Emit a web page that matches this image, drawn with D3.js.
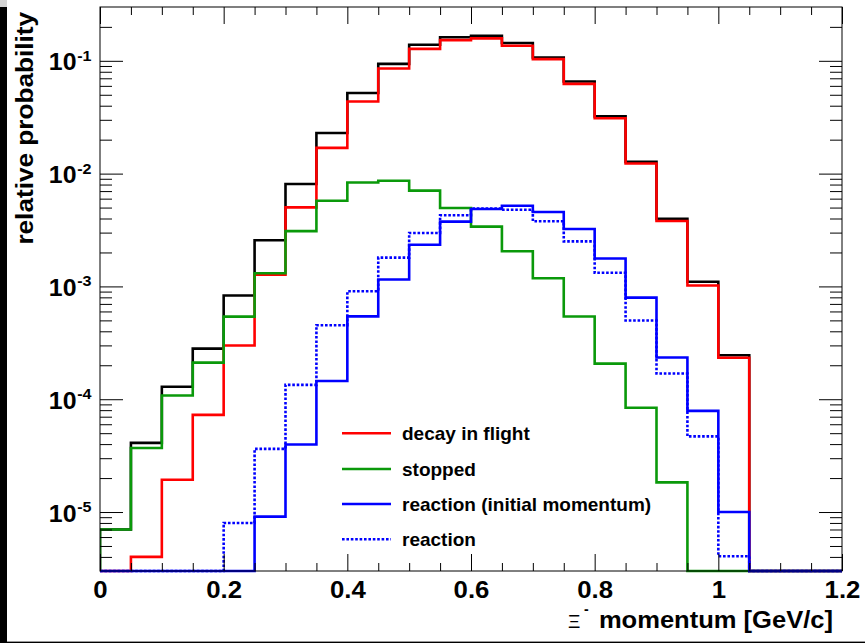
<!DOCTYPE html>
<html>
<head>
<meta charset="utf-8">
<script src="https://cdn.jsdelivr.net/npm/d3@7"></script>
<style>
  html, body { margin: 0; padding: 0; background: #fff; }
  svg { display: block; }
  text { font-family: "Liberation Sans", Arial, Helvetica, sans-serif; font-weight: bold; fill: #000; }
</style>
</head>
<body>
<svg id="chart" width="865" height="643"></svg>
<script>
// ---- data ----
const binEdges = [0, 0.05, 0.1, 0.15, 0.2, 0.25, 0.3, 0.35, 0.4, 0.45, 0.5, 0.55, 0.6,
                  0.65, 0.7, 0.75, 0.8, 0.85, 0.9, 0.95, 1.0, 1.05, 1.1, 1.15, 1.2];
const total = [7.0e-6, 4.1e-5, 1.29e-4, 2.81e-4, 8.3e-4, 2.57e-3, 8.1e-3, 0.0229, 0.0518, 0.094,
               0.139, 0.162, 0.1665, 0.144, 0.107, 0.0656, 0.0322, 0.0127, 3.97e-3, 1.10e-3,
               2.45e-4, 0, 0, 0];
const decayInFlight = [0, 4.0e-6, 1.93e-5, 7.27e-5, 2.99e-4, 1.27e-3, 5.02e-3, 0.0169, 0.0436, 0.0855,
               0.1277, 0.1525, 0.158, 0.136, 0.1035, 0.0625, 0.031, 0.0123, 3.80e-3, 1.02e-3,
               2.33e-4, 0, 0, 0];
const stopped = [7.0e-6, 3.7e-5, 1.08e-4, 2.11e-4, 5.4e-4, 1.31e-3, 3.09e-3, 5.75e-3, 8.35e-3, 8.65e-3,
               7.07e-3, 4.96e-3, 3.39e-3, 2.05e-3, 1.18e-3, 5.41e-4, 2.07e-4, 8.4e-5, 1.83e-5, 0,
               0, 0, 0, 0];
const reactionInitial = [0, 0, 0, 0, 0, 9.1e-6, 3.97e-5, 1.45e-4, 5.43e-4, 1.15e-3,
               2.34e-3, 3.75e-3, 4.85e-3, 5.19e-3, 4.57e-3, 3.23e-3, 1.77e-3, 7.96e-4, 2.34e-4, 7.89e-5,
               1.0e-5, 0, 0, 0];
const reaction = [0, 0, 0, 0, 8.0e-6, 3.63e-5, 1.34e-4, 4.53e-4, 9.06e-4, 1.80e-3,
               2.98e-3, 4.27e-3, 4.9e-3, 4.79e-3, 3.78e-3, 2.51e-3, 1.32e-3, 4.98e-4, 1.69e-4, 4.68e-5,
               4.05e-6, 0, 0, 0];

const xTicksMajor = [0, 0.2, 0.4, 0.6, 0.8, 1.0, 1.2];
const xTicksMinor = [0.05, 0.1, 0.15, 0.25, 0.3, 0.35, 0.45, 0.5, 0.55, 0.65, 0.7, 0.75,
                     0.85, 0.9, 0.95, 1.05, 1.1, 1.15];
const yTicksMajor = [1e-5, 1e-4, 1e-3, 1e-2, 1e-1];
const yTickExponents = ["-5", "-4", "-3", "-2", "-1"];
const yTicksMinor = [4e-6, 5e-6, 6e-6, 7e-6, 8e-6, 9e-6,
                     2e-5, 3e-5, 4e-5, 5e-5, 6e-5, 7e-5, 8e-5, 9e-5,
                     2e-4, 3e-4, 4e-4, 5e-4, 6e-4, 7e-4, 8e-4, 9e-4,
                     2e-3, 3e-3, 4e-3, 5e-3, 6e-3, 7e-3, 8e-3, 9e-3,
                     2e-2, 3e-2, 4e-2, 5e-2, 6e-2, 7e-2, 8e-2, 9e-2, 0.2];

const seriesNames = ["total", "decay in flight", "stopped", "reaction", "reaction (initial momentum)"];
const seriesColors = ["#000000", "#ff0000", "#0a990a", "#0000ff", "#0000ff"];
const legendLabels = ["decay in flight", "stopped", "reaction (initial momentum)", "reaction"];
const legendColors = ["#ff0000", "#0a990a", "#0000ff", "#0000ff"];
const legendDashed = [false, false, false, true];

// ---- layout ----
const svg = d3.select("#chart");
const L = 100, R = 842, T = 7, B = 571;
const yMin = 3e-6, yMax = 0.3;
const x = d3.scaleLinear().domain([0, 1.2]).range([L, R]);
const y = d3.scaleLog().domain([yMin, yMax]).range([B, T]).clamp(true);

function stretch(sel, k) {
  sel.each(function () {
    const len = this.getComputedTextLength();
    d3.select(this).attr("textLength", len * k).attr("lengthAdjust", "spacingAndGlyphs");
  });
}

// decorations at image edges
svg.append("rect").attr("x", 0).attr("y", 0).attr("width", 865).attr("height", 643).attr("fill", "#fff");
svg.append("rect").attr("x", 0).attr("y", 0).attr("width", 7).attr("height", 7).attr("fill", "#d4d4d4");
svg.append("rect").attr("x", 0).attr("y", 7).attr("width", 7).attr("height", 636).attr("fill", "#000");
svg.append("rect").attr("x", 0).attr("y", 641.6).attr("width", 865).attr("height", 1.4).attr("fill", "#000");

// ---- histograms ----
svg.append("clipPath").attr("id", "plotclip").append("rect")
  .attr("x", L).attr("y", T).attr("width", R - L).attr("height", B - T + 2);

function stepPath(vals) {
  let d = "M" + x(binEdges[0]) + "," + y(yMin);
  vals.forEach((v, i) => {
    const yy = y(Math.max(v, yMin));
    d += "L" + x(binEdges[i]) + "," + yy + "L" + x(binEdges[i + 1]) + "," + yy;
  });
  d += "L" + x(binEdges[vals.length]) + "," + y(yMin);
  return d;
}

const hg = svg.append("g").attr("clip-path", "url(#plotclip)");
const drawOrder = [
  { vals: total, color: seriesColors[0], dash: null },
  { vals: decayInFlight, color: seriesColors[1], dash: null },
  { vals: stopped, color: seriesColors[2], dash: null },
  { vals: reaction, color: seriesColors[3], dash: "2.6,1.8" },
  { vals: reactionInitial, color: seriesColors[4], dash: null }
];
hg.selectAll("path.hist").data(drawOrder).join("path")
  .attr("class", "hist")
  .attr("d", d => stepPath(d.vals))
  .attr("fill", "none")
  .attr("stroke", d => d.color)
  .attr("stroke-width", 2.6)
  .attr("stroke-linejoin", "miter")
  .attr("stroke-dasharray", d => d.dash);

// ---- axes ----
function styleAxis(g) {
  g.select(".domain").remove();
  g.selectAll("line").attr("stroke", "#000").attr("stroke-width", 1);
}
// bottom
svg.append("g").attr("transform", `translate(0,${B})`)
  .call(d3.axisBottom(x).tickValues(xTicksMinor).tickSize(-8).tickFormat(""))
  .call(styleAxis);
const xb = svg.append("g").attr("transform", `translate(0,${B})`)
  .call(d3.axisBottom(x).tickValues(xTicksMajor).tickSize(-17).tickFormat(d3.format("~g")))
  .call(styleAxis);
xb.selectAll("text").attr("y", 26.5).attr("dy", 0)
  .style("font-size", "23px").style("font-family", '"Liberation Sans", Arial, sans-serif')
  .style("font-weight", "bold").attr("fill", "#000");
stretch(xb.selectAll("text"), 1.12);
// top
svg.append("g").attr("transform", `translate(0,${T})`)
  .call(d3.axisTop(x).tickValues(xTicksMinor).tickSize(-8).tickFormat(""))
  .call(styleAxis);
svg.append("g").attr("transform", `translate(0,${T})`)
  .call(d3.axisTop(x).tickValues(xTicksMajor).tickSize(-17).tickFormat(""))
  .call(styleAxis);
// left
svg.append("g").attr("transform", `translate(${L},0)`)
  .call(d3.axisLeft(y).tickValues(yTicksMinor).tickSize(-12).tickFormat(""))
  .call(styleAxis);
const yl = svg.append("g").attr("transform", `translate(${L},0)`)
  .call(d3.axisLeft(y).tickValues(yTicksMajor).tickSize(-23).tickFormat(""))
  .call(styleAxis);
yl.selectAll(".tick text").remove();
yl.selectAll(".tick").each(function (d, i) {
  const g = d3.select(this);
  const base = g.append("text").attr("x", -23.5).attr("y", 9)
    .attr("text-anchor", "end").style("font-size", "23px").text("10");
  stretch(base, 1.08);
  const sup = g.append("text").attr("x", -8.5).attr("y", -0.5)
    .attr("text-anchor", "end").style("font-size", "14px").text(yTickExponents[i]);
  stretch(sup, 1.15);
});
// right
svg.append("g").attr("transform", `translate(${R},0)`)
  .call(d3.axisRight(y).tickValues(yTicksMinor).tickSize(-12).tickFormat(""))
  .call(styleAxis);
svg.append("g").attr("transform", `translate(${R},0)`)
  .call(d3.axisRight(y).tickValues(yTicksMajor).tickSize(-23).tickFormat(""))
  .call(styleAxis);

// frame
svg.append("rect").attr("x", L).attr("y", T).attr("width", R - L).attr("height", B - T)
  .attr("fill", "none").attr("stroke", "#000").attr("stroke-width", 1);

// ---- axis titles ----
const yt = svg.append("text").attr("transform", "translate(33,12) rotate(-90)")
  .attr("text-anchor", "end").style("font-size", "24px").text("relative probability");
stretch(yt, 1.09);

const xt = svg.append("text").attr("x", 833).attr("y", 628)
  .attr("text-anchor", "end").style("font-size", "23px").text("momentum [GeV/c]");
stretch(xt, 1.11);
svg.append("text").attr("x", 568).attr("y", 628).style("font-size", "19px")
  .style("font-weight", "normal").text("\u039E");
svg.append("text").attr("x", 584).attr("y", 614).style("font-size", "14px").text("-");

// ---- legend ----
const lg = svg.append("g");
const rowY = [433.3, 469, 504, 539.3];
legendLabels.forEach((lab, i) => {
  lg.append("line").attr("x1", 342).attr("x2", 391).attr("y1", rowY[i]).attr("y2", rowY[i])
    .attr("stroke", legendColors[i]).attr("stroke-width", 2.6)
    .attr("stroke-dasharray", legendDashed[i] ? "2.6,1.8" : null);
  lg.append("text").attr("x", 402).attr("y", rowY[i] + 7).style("font-size", "19px").text(lab);
});
</script>
</body>
</html>
